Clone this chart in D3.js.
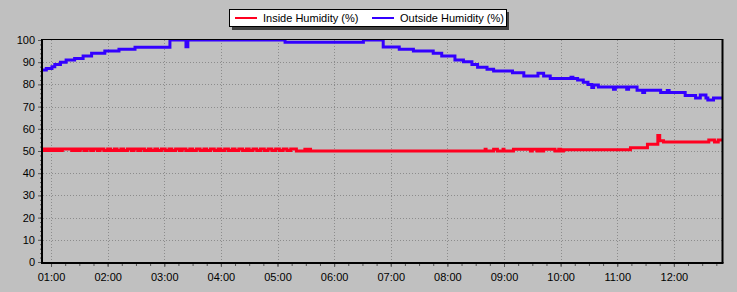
<!DOCTYPE html>
<html>
<head>
<meta charset="utf-8">
<script src="https://cdn.jsdelivr.net/npm/d3@7"></script>
<style>
  body { margin: 0; background: #c0c0c0; }
  svg { display: block; }
  text { font-family: "Liberation Sans", Arial, sans-serif; font-size: 11px; fill: #000; }
</style>
</head>
<body>
<svg width="737" height="292"></svg>
<script>
// readings, times are HH:MM
var startTime = "00:51:30", endTime = "12:51:00";
var yTicks = [0, 10, 20, 30, 40, 50, 60, 70, 80, 90, 100];
var xTickLabels = ["01:00","02:00","03:00","04:00","05:00","06:00","07:00","08:00","09:00","10:00","11:00","12:00"];
var seriesNames = ["Inside Humidity (%)", "Outside Humidity (%)"];

var insideTimes = ["00:51","00:53","00:56","00:59","01:01","01:04","01:07","01:10","01:12","01:22","01:25","01:28","01:31","01:35",
  "01:38","01:42","01:45","01:49","01:52","01:56","02:00","02:03","02:07","02:10","02:14","02:17","02:21","02:25","02:28","02:32",
  "02:35","02:39","02:43","02:46","02:50","02:53","02:57","03:01","03:05","03:08","03:12","03:16","03:19","03:23","03:27","03:30",
  "03:34","03:38","03:42","03:45","03:49","03:53","03:57","04:00","04:04","04:08","04:12","04:15","04:19","04:23","04:27","04:30",
  "04:34","04:38","04:42","04:46","04:50","04:54","04:58","05:02","05:06","05:10","05:14","05:20","05:29","05:31","05:33","05:35",
  "08:40","08:41","08:49","08:53","08:59","09:00","09:10","09:28","09:30","09:35","09:37","09:40","09:42","09:54","09:58","10:00",
  "10:03","11:14","11:32","11:43","11:45","11:49","12:37","12:43","12:47","12:51"];
var insideValues = [50.9,50.2,50.9,50.2,50.9,50.2,50.9,50.2,50.9,50.2,50.9,50.2,50.9,50.2,
  50.9,50.2,50.9,50.2,50.9,50.2,50.9,50.2,50.9,50.2,50.9,50.2,50.9,50.2,50.9,50.2,
  50.9,50.2,50.9,50.2,50.9,50.2,50.9,50.2,50.9,50.2,50.9,50.2,50.9,50.2,50.9,50.2,
  50.9,50.2,50.9,50.2,50.9,50.2,50.9,50.2,50.9,50.2,50.9,50.2,50.9,50.2,50.9,50.2,
  50.9,50.2,50.9,50.2,50.9,50.2,50.9,50.2,50.9,50.2,50.9,50.0,50.8,50.0,50.8,50.0,
  50.8,50.0,50.8,50.0,50.8,50.0,50.8,50.0,50.8,50.0,50.8,50.0,50.8,50.0,50.8,50.0,
  50.6,51.5,53,57,54.6,54,55,54,55,55];

var outsideTimes = ["00:51","00:55","01:01","01:04","01:10","01:16","01:25","01:34","01:43","01:57","02:12","02:29","03:06","03:23",
  "03:25","05:08","06:31","06:52","07:09","07:24","07:45","07:54","08:08","08:17","08:26","08:32","08:42","08:49","09:09","09:21",
  "09:36","09:42","09:49","10:11","10:13","10:18","10:24","10:29","10:33","10:35","10:40","10:56","10:58","11:10","11:12","11:21",
  "11:27","11:29","11:46","11:53","11:55","12:12","12:23","12:28","12:34","12:36","12:42","12:51"];
var outsideValues = [86.5,87.2,88,89,90,91,91.7,92.8,94,95,95.8,96.7,100,97,
  100,99,100,96.8,95.8,95,94,92.8,91,90.2,89,87.7,86.8,86,85.3,83.8,
  85,83.8,82.7,83.2,82.7,82,81,80,78.6,79.7,78.8,77.8,78.8,77.8,78.8,77.4,
  76.3,77.4,76.3,77.2,76.3,75,73.9,75.2,73.9,73,73.9,73.9];

var colors = ["#ff0020", "#3300ff"];

var parseT = d3.timeParse("%H:%M"), parseS = d3.timeParse("%H:%M:%S");

var svg = d3.select("svg");
var plotLeft = 43, plotRight = 722, plotTop = 40, plotBottom = 262;

var x = d3.scaleTime().domain([parseS(startTime), parseS(endTime)]).range([plotLeft, plotRight]);
var y = d3.scaleLinear().domain([0, 100]).range([plotBottom, plotTop]);

// grid
var grid = svg.append("g").attr("stroke", "#8c8c8c").attr("stroke-dasharray", "1,2");
grid.selectAll(".gy").data(yTicks.slice(1, -1)).enter().append("line")
  .attr("x1", plotLeft).attr("x2", plotRight)
  .attr("y1", function(d) { return Math.round(y(d)) + 0.5; })
  .attr("y2", function(d) { return Math.round(y(d)) + 0.5; });
grid.selectAll(".gx").data(xTickLabels).enter().append("line")
  .attr("y1", plotTop).attr("y2", plotBottom)
  .attr("x1", function(d) { return Math.round(x(parseT(d))) + 0.5; })
  .attr("x2", function(d) { return Math.round(x(parseT(d))) + 0.5; });

// axes
var xAxis = d3.axisBottom(x).tickValues(xTickLabels.map(parseT)).tickFormat(d3.timeFormat("%H:%M")).tickSize(4).tickSizeOuter(0);
var xMinor = d3.axisBottom(x).ticks(d3.timeMinute.every(15)).tickFormat("").tickSize(3).tickSizeOuter(0);
var yAxis = d3.axisLeft(y).tickValues(yTicks).tickSize(4).tickSizeOuter(0);
var yMinor = d3.axisLeft(y).tickValues(d3.range(0, 101, 2)).tickFormat("").tickSize(2).tickSizeOuter(0);

[xMinor, xAxis].forEach(function(a) {
  var g = svg.append("g").attr("transform", "translate(0," + (plotBottom + 1) + ")").call(a);
  g.select(".domain").remove();
  g.selectAll("line").attr("stroke", "#555");
  g.selectAll("text").attr("dy", "1.05em").attr("y", 6).style("font-size", "11px").style("font-family", null);
});
[yMinor, yAxis].forEach(function(a) {
  var g = svg.append("g").attr("transform", "translate(" + (plotLeft - 1) + ",0)").call(a);
  g.select(".domain").remove();
  g.selectAll("line").attr("stroke", "#555");
  g.selectAll("text").attr("x", -7).style("font-size", "11px").style("font-family", null);
});

// lines
var line = d3.line()
  .x(function(d) { return x(d.t); })
  .y(function(d) { return y(d.v); })
  .curve(d3.curveStepAfter);

var insideData = insideTimes.map(function(t, i) { return {t: parseT(t), v: insideValues[i]}; });
var outsideData = outsideTimes.map(function(t, i) { return {t: parseT(t), v: outsideValues[i]}; });
insideData[0].t = parseS(startTime);
outsideData[0].t = parseS(startTime);
insideData[insideData.length - 1].t = parseS(endTime);
outsideData[outsideData.length - 1].t = parseS(endTime);

svg.append("defs").append("clipPath").attr("id", "clip")
  .append("rect").attr("x", plotLeft).attr("y", plotTop - 1).attr("width", plotRight - plotLeft).attr("height", plotBottom - plotTop + 1);

var plot = svg.append("g").attr("clip-path", "url(#clip)");
plot.append("path").datum(outsideData).attr("d", line)
  .attr("fill", "none").attr("stroke", colors[1]).attr("stroke-width", 3);
plot.append("path").datum(insideData).attr("d", line)
  .attr("fill", "none").attr("stroke", colors[0]).attr("stroke-width", 3);

// frame
svg.append("line").attr("x1", plotLeft).attr("x2", plotRight).attr("y1", plotTop - 0.5).attr("y2", plotTop - 0.5).attr("stroke", "#000");
svg.append("line").attr("x1", plotRight + 0.5).attr("x2", plotRight + 0.5).attr("y1", plotTop - 1).attr("y2", plotBottom + 1).attr("stroke", "#000").attr("stroke-width", 2);
svg.append("line").attr("x1", plotLeft - 1).attr("x2", plotLeft - 1).attr("y1", plotTop - 1).attr("y2", plotBottom + 2).attr("stroke", "#000").attr("stroke-width", 2);
svg.append("line").attr("x1", plotLeft - 2).attr("x2", plotRight + 1.5).attr("y1", plotBottom + 1).attr("y2", plotBottom + 1).attr("stroke", "#000").attr("stroke-width", 2);

// legend
var lg = svg.append("g");
lg.append("rect").attr("x", 232).attr("y", 12).attr("width", 277).attr("height", 18).attr("fill", "#404040");
lg.append("rect").attr("x", 229.5).attr("y", 9.5).attr("width", 277).attr("height", 17).attr("fill", "#fff").attr("stroke", "#000");
var items = lg.selectAll(".item").data(seriesNames).enter().append("g")
  .attr("transform", function(d, i) { return "translate(" + (i ? 372 : 235) + ",18)"; });
items.append("line").attr("x1", 0).attr("x2", 22).attr("stroke-width", 2)
  .attr("stroke", function(d, i) { return colors[i]; });
items.append("text").attr("x", 28).attr("dy", "0.35em").text(function(d) { return d; });
</script>
</body>
</html>
